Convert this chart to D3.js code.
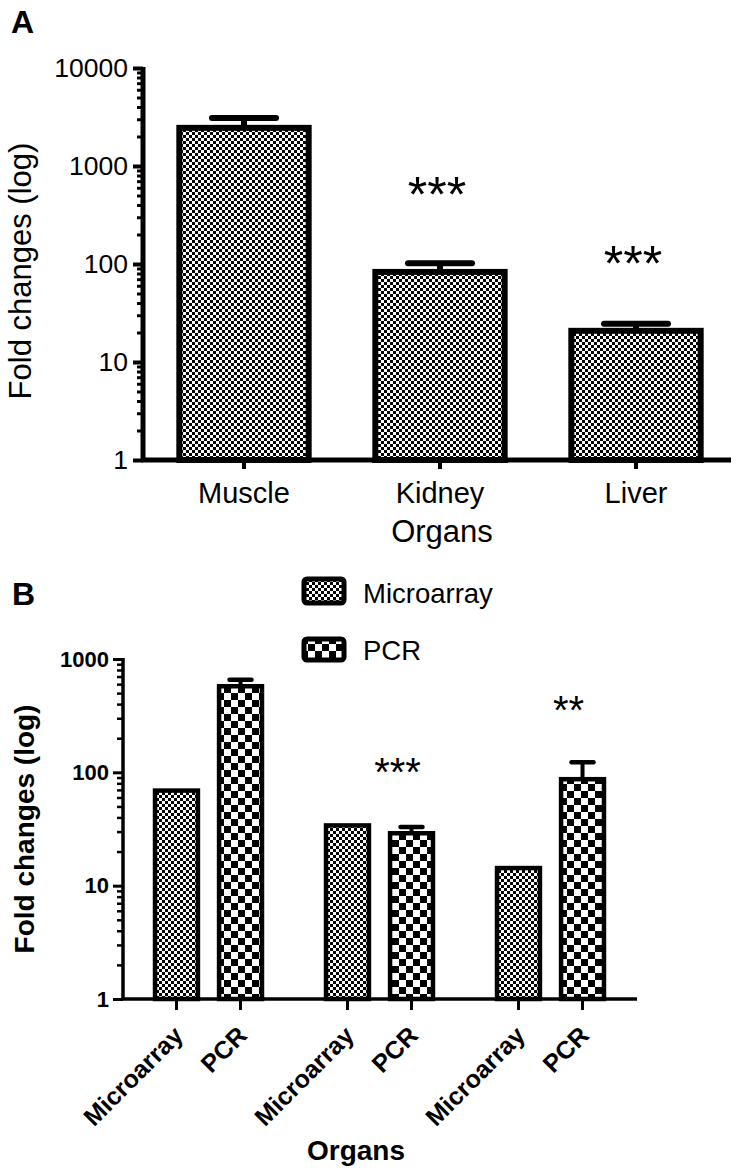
<!DOCTYPE html>
<html><head><meta charset="utf-8">
<script src="https://cdn.jsdelivr.net/npm/d3@7"></script>
<style>
body{margin:0;background:#fff}
svg{display:block}
text{font-family:"Liberation Sans",Arial,sans-serif;fill:#000}
</style>
</head><body>
<svg id="chart" width="742" height="1176"></svg>
<script>
// ---------- Panel A data ----------
const organsA = ["Muscle", "Kidney", "Liver"];
const foldA = [2450, 83, 20.8];
const errTopA = [3090, 102, 24.6];
const sigA = ["", "***", "***"];
const sigLevelA = [null, 660, 130];
const majorTicksA = [1, 10, 100, 1000, 10000];

// ---------- Panel B data ----------
const groupsB = ["Group 1", "Group 2", "Group 3"];
const methodsB = ["Microarray", "PCR"];
const microarrayB = [69, 34, 14.3];
const pcrB = [575, 29, 87];
const pcrErrTopB = [655, 33, 123];
const sigB = ["", "***", "**"];
const sigLevelB = [null, 121, 420];
const majorTicksB = [1, 10, 100, 1000];

const svg = d3.select("#chart");
const defs = svg.append("defs");

function checker(id, cell) {
  const p = defs.append("pattern").attr("id", id)
    .attr("patternUnits", "userSpaceOnUse")
    .attr("width", cell * 2).attr("height", cell * 2);
  p.append("rect").attr("width", cell * 2).attr("height", cell * 2).attr("fill", "#fff");
  p.append("rect").attr("x", 0).attr("y", 0).attr("width", cell).attr("height", cell).attr("fill", "#000");
  p.append("rect").attr("x", cell).attr("y", cell).attr("width", cell).attr("height", cell).attr("fill", "#000");
}
checker("fine", 3);
checker("coarse", 7);

function minorTicks(domain) {
  const out = [];
  for (let d = domain[0]; d < domain[1]; d *= 10)
    for (let k = 2; k <= 9; k++) out.push(d * k);
  return out;
}

// =================== PANEL A ===================
const A = svg.append("g");
const yA = d3.scaleLog().domain([1, 10000]).range([460, 68]);
const xA = d3.scaleBand().domain(organsA).range([146, 734]).paddingInner(0.34).paddingOuter(0.17);
const axisXA = 143, axisEndA = 731;

A.append("text").attr("x", 11).attr("y", 33).attr("font-size", 32).attr("font-weight", "bold").text("A");

// bars
A.selectAll("rect.bar").data(organsA).join("rect").attr("class", "bar")
  .attr("x", d => xA(d)).attr("width", xA.bandwidth())
  .attr("y", (d, i) => yA(foldA[i])).attr("height", (d, i) => yA(1) - yA(foldA[i]))
  .attr("fill", "url(#fine)").attr("stroke", "#000").attr("stroke-width", 6);

// error bars
organsA.forEach((d, i) => {
  const cx = xA(d) + xA.bandwidth() / 2;
  A.append("line").attr("x1", cx).attr("x2", cx).attr("y1", yA(foldA[i])).attr("y2", yA(errTopA[i]))
    .attr("stroke", "#000").attr("stroke-width", 6);
  A.append("line").attr("x1", cx - 32).attr("x2", cx + 32).attr("y1", yA(errTopA[i])).attr("y2", yA(errTopA[i]))
    .attr("stroke", "#000").attr("stroke-width", 6).attr("stroke-linecap", "round");
  if (sigA[i]) {
    A.append("text").attr("x", cx - 3).attr("y", yA(sigLevelA[i]) + 0.57 * 50)
      .attr("text-anchor", "middle").attr("font-size", 50).text(sigA[i]);
  }
});

// y axis
const gyA = A.append("g").attr("transform", `translate(${axisXA},0)`);
gyA.call(d3.axisLeft(yA).tickValues(minorTicks([1, 10000])).tickSize(6).tickSizeOuter(0).tickFormat(""));
gyA.selectAll(".tick line").attr("stroke-width", 3);
const gyA2 = A.append("g").attr("transform", `translate(${axisXA},0)`);
gyA2.call(d3.axisLeft(yA).tickValues(majorTicksA).tickSize(10).tickSizeOuter(0).tickPadding(5).tickFormat(d3.format("d")));
gyA2.selectAll(".tick line").attr("stroke-width", 4);
gyA2.selectAll(".tick text").attr("font-size", 26.5).attr("font-family", "Liberation Sans, Arial, sans-serif").attr("fill", "#000");
A.selectAll(".domain").remove();
A.append("line").attr("x1", axisXA).attr("x2", axisXA).attr("y1", yA(10000) - 1).attr("y2", yA(1))
  .attr("stroke", "#000").attr("stroke-width", 5);

// x axis
const gxA = A.append("g").attr("transform", `translate(0,${yA(1)})`);
gxA.call(d3.axisBottom(xA).tickSize(9).tickSizeOuter(0).tickPadding(13));
gxA.select(".domain").remove();
gxA.selectAll(".tick line").attr("stroke-width", 4);
gxA.selectAll(".tick text").attr("font-size", 29).attr("font-family", "Liberation Sans, Arial, sans-serif").attr("fill", "#000");
A.append("line").attr("x1", axisXA - 2).attr("x2", axisEndA).attr("y1", yA(1)).attr("y2", yA(1))
  .attr("stroke", "#000").attr("stroke-width", 5);

A.append("text").attr("x", 442).attr("y", 542).attr("text-anchor", "middle").attr("font-size", 31).text("Organs");
A.append("text").attr("transform", "translate(31,271) rotate(-90)").attr("text-anchor", "middle")
  .attr("font-size", 31).text("Fold changes (log)");

// =================== PANEL B ===================
const B = svg.append("g");
const yB = d3.scaleLog().domain([1, 1000]).range([999, 659]);
const xB = d3.scaleBand().domain(groupsB).range([123, 636]);
const xBin = d3.scaleBand().domain(methodsB).range([0, xB.bandwidth()]).paddingInner(0.33).paddingOuter(0.5);
const axisXB = 123, axisEndB = 637;

B.append("text").attr("x", 12).attr("y", 605).attr("font-size", 32).attr("font-weight", "bold").text("B");

// legend
const legend = B.append("g");
methodsB.forEach((m, i) => {
  const ly = [579, 639][i], lh = [24, 21][i];
  legend.append("rect").attr("x", 304).attr("y", ly).attr("width", 40).attr("height", lh).attr("rx", 3)
    .attr("fill", i === 0 ? "url(#fine)" : "url(#coarse)").attr("stroke", "#000").attr("stroke-width", 5);
  legend.append("text").attr("x", 363).attr("y", [603, 660][i]).attr("font-size", 27.5).text(m);
});

const seriesB = [microarrayB, pcrB];
groupsB.forEach((g, gi) => {
  methodsB.forEach((m, mi) => {
    const v = seriesB[mi][gi];
    const x0 = xB(g) + xBin(m);
    B.append("rect").attr("x", x0).attr("width", xBin.bandwidth())
      .attr("y", yB(v)).attr("height", yB(1) - yB(v))
      .attr("fill", mi === 0 ? "url(#fine)" : "url(#coarse)").attr("stroke", "#000").attr("stroke-width", 4.5);
  });
  const cx = xB(g) + xBin("PCR") + xBin.bandwidth() / 2;
  B.append("line").attr("x1", cx).attr("x2", cx).attr("y1", yB(pcrB[gi])).attr("y2", yB(pcrErrTopB[gi]))
    .attr("stroke", "#000").attr("stroke-width", 4);
  B.append("line").attr("x1", cx - 11).attr("x2", cx + 11).attr("y1", yB(pcrErrTopB[gi])).attr("y2", yB(pcrErrTopB[gi]))
    .attr("stroke", "#000").attr("stroke-width", 4.5).attr("stroke-linecap", "round");
  if (sigB[gi]) {
    B.append("text").attr("x", cx - 14).attr("y", yB(sigLevelB[gi]) + 0.57 * 40)
      .attr("text-anchor", "middle").attr("font-size", 40).text(sigB[gi]);
  }
});

// y axis B
const gyB = B.append("g").attr("transform", `translate(${axisXB},0)`);
gyB.call(d3.axisLeft(yB).tickValues(minorTicks([1, 1000])).tickSize(6).tickSizeOuter(0).tickFormat(""));
gyB.selectAll(".tick line").attr("stroke-width", 2.5);
const gyB2 = B.append("g").attr("transform", `translate(${axisXB},0)`);
gyB2.call(d3.axisLeft(yB).tickValues(majorTicksB).tickSize(10).tickSizeOuter(0).tickPadding(4).tickFormat(d3.format("d")));
gyB2.selectAll(".tick line").attr("stroke-width", 3);
gyB2.selectAll(".tick text").attr("font-size", 22).attr("font-weight", "bold")
  .attr("font-family", "Liberation Sans, Arial, sans-serif").attr("fill", "#000");
B.selectAll(".domain").remove();
B.append("line").attr("x1", axisXB).attr("x2", axisXB).attr("y1", yB(1000) - 1).attr("y2", yB(1))
  .attr("stroke", "#000").attr("stroke-width", 3.5);

// x axis B: ticks under each bar, rotated labels
const tickData = [];
groupsB.forEach(g => methodsB.forEach(m => tickData.push({ g, m, x: xB(g) + xBin(m) + xBin.bandwidth() / 2 })));
B.selectAll("line.xt").data(tickData).join("line").attr("class", "xt")
  .attr("x1", d => d.x).attr("x2", d => d.x).attr("y1", yB(1)).attr("y2", yB(1) + 11)
  .attr("stroke", "#000").attr("stroke-width", 3);
B.selectAll("text.xl").data(tickData).join("text").attr("class", "xl")
  .attr("transform", d => `translate(${d.x + 8},${yB(1) + 38}) rotate(-45)`)
  .attr("text-anchor", "end").attr("font-size", 25).attr("font-weight", "bold").text(d => d.m);
B.append("line").attr("x1", axisXB - 1.5).attr("x2", axisEndB).attr("y1", yB(1)).attr("y2", yB(1))
  .attr("stroke", "#000").attr("stroke-width", 3.5);

B.append("text").attr("x", 356).attr("y", 1160).attr("text-anchor", "middle").attr("font-size", 28)
  .attr("font-weight", "bold").text("Organs");
B.append("text").attr("transform", "translate(34,829) rotate(-90)").attr("text-anchor", "middle")
  .attr("font-size", 28).attr("font-weight", "bold").text("Fold changes (log)");
</script>
</body></html>
